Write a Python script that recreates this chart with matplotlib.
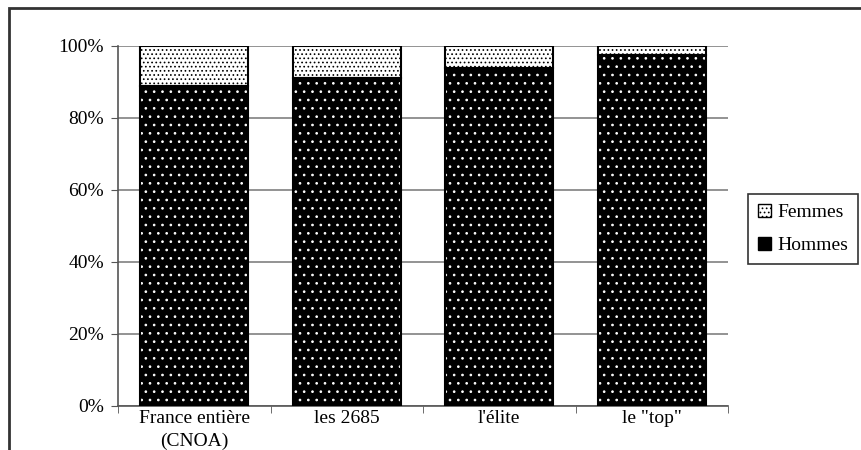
import matplotlib.pyplot as plt
from matplotlib.patches import Rectangle
import numpy as np

plt.rcParams['font.family'] = ['Liberation Serif', 'DejaVu Serif']
plt.rcParams['hatch.linewidth'] = 0.7

categories = ["France entière\n(CNOA)", "les 2685", "l'élite", 'le "top"']
hommes = [89, 91, 94, 97.5]
femmes = [100 - h for h in hommes]

fig = plt.figure(figsize=(8.61, 4.5), dpi=100)
ax = fig.add_axes([118 / 861, 1 - 406 / 450, 610 / 861, 360 / 450])

x = np.arange(len(categories))
w = 0.71

# hommes: noir avec points blancs
ax.bar(x, hommes, w, color='black', edgecolor='white', hatch='..', linewidth=0, zorder=2)
ax.bar(x, hommes, w, fill=False, edgecolor='black', linewidth=1.5, zorder=3)
# femmes: blanc avec points noirs serrés
ax.bar(x, femmes, w, bottom=hommes, color='white', edgecolor='black', hatch='....',
       linewidth=0, zorder=2)
ax.bar(x, femmes, w, bottom=hommes, fill=False, edgecolor='black', linewidth=1.5, zorder=3)

ax.set_xlim(-0.5, len(categories) - 0.5)
ax.set_ylim(0, 100)
ax.set_yticks(range(0, 101, 20))
ax.set_yticklabels([f'{v}%' for v in range(0, 101, 20)], fontsize=14)
ax.set_xticks(x)
ax.set_xticklabels(categories, fontsize=14, linespacing=1.45)
ax.set_xticks(np.arange(-0.5, len(categories), 1), minor=True)
ax.tick_params(axis='x', which='major', length=0, pad=3)
ax.tick_params(axis='x', which='minor', length=5, direction='out', color='#555555')
ax.tick_params(axis='y', length=5, direction='out', color='#555555', pad=5)
ax.grid(axis='y', color='#808080', linewidth=1.2, zorder=0)
ax.set_axisbelow(True)
for s in ['top', 'right']:
    ax.spines[s].set_visible(False)
ax.spines['left'].set_color('#555555')
ax.spines['bottom'].set_color('#555555')
ax.spines['left'].set_linewidth(1.2)
ax.spines['bottom'].set_linewidth(1.2)

h_f = Rectangle((0, 0), 1, 1, facecolor='white', edgecolor='black', hatch='....', linewidth=1)
h_h = Rectangle((0, 0), 1, 1, facecolor='black', edgecolor='black', linewidth=1)
leg = fig.legend([h_f, h_h], ['Femmes', 'Hommes'], loc='center left',
                 bbox_to_anchor=(748 / 861, 1 - 229 / 450), fontsize=14, frameon=True,
                 fancybox=False, edgecolor='black', handlelength=0.7, handleheight=0.7,
                 handletextpad=0.3, labelspacing=0.8, borderpad=0.5, borderaxespad=0)
leg.get_frame().set_linewidth(1.2)

fig.patches.append(Rectangle((9 / 861, -0.1), 1.2, 1 - 8 / 450 + 0.1, transform=fig.transFigure,
                             fill=False, edgecolor='#333333', linewidth=2))

fig.savefig('out.png', dpi=100)
